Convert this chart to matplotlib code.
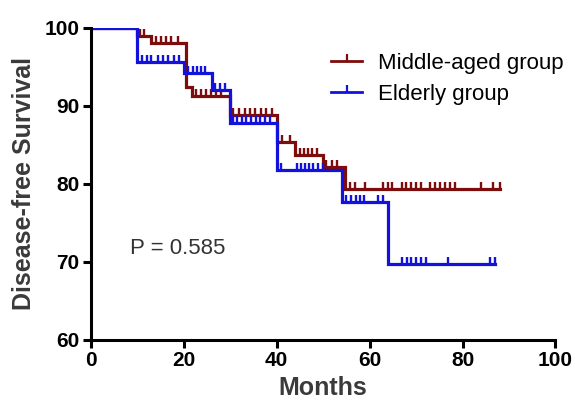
import numpy as np
import matplotlib
matplotlib.use("Agg")
import matplotlib.pyplot as plt
from matplotlib.path import Path

# ---- data ----
red_times = [0, 10, 13, 20.5, 21.7, 30, 40, 44, 50, 54.7, 88]
red_surv = [100, 99.0, 98.0, 92.4, 91.2, 88.8, 85.4, 83.7, 82.2, 79.3, 79.3]
blue_times = [0, 10, 20, 26, 30, 40, 54, 64, 87]
blue_surv = [100, 95.65, 94.2, 92.0, 87.75, 81.75, 77.7, 69.7, 69.7]

red_censor = [8.5, 9.3, 10.6, 11.5, 14.1, 15.1, 16.1, 17.2, 18.7, 22.6, 23.7, 24.8,
              25.9, 27, 28, 30.6, 31.9, 33.2, 34.3, 35.3, 36.6, 37.8, 38.9, 41.1,
              42.9, 45, 45.9, 46.8, 47.7, 48.6, 50.7, 51.8, 52.9, 55.8, 56.8, 59.0,
              62.9, 64.0, 64.9, 66.9, 67.8, 68.9, 70.0, 71.0, 73.0, 74.0, 75.1,
              76.2, 77.3, 78.3, 84, 86.5, 88]
blue_censor = [7, 8, 11, 12, 13, 14.5, 15.5, 16.5, 18, 19, 21, 21.9, 22.8, 23.7,
               24.6, 26.7, 27.8, 28.9, 30.5, 31.5, 32.5, 33.5, 34.5, 35.5, 36.5,
               37.5, 38.5, 41, 44.3, 45.2, 46.1, 47.0, 47.9, 48.8, 50, 55, 56.1,
               57.1, 57.9, 58.8, 61.9, 62.8, 66.9, 68.0, 69.0, 69.9, 71.0, 72.1,
               76.9, 85.9, 87]

labels = ["Middle-aged group", "Elderly group"]
xticks = [0, 20, 40, 60, 80, 100]
yticks = [60, 70, 80, 90, 100]
p_text = "P = 0.585"

RED = "#7d0c0c"
BLUE = "#1212dc"


def step_value(times, surv, t):
    idx = np.searchsorted(times, t, side="right") - 1
    return np.asarray(surv)[idx]


tick_marker = Path([(0, 0), (0, 1)], [Path.MOVETO, Path.LINETO])

fig = plt.figure(figsize=(5.75, 4.09), dpi=100)
ax = fig.add_axes([0.158, 0.169, 0.808, 0.763])

for times, surv, cens, col, lab in [
    (red_times, red_surv, red_censor, RED, labels[0]),
    (blue_times, blue_surv, blue_censor, BLUE, labels[1]),
]:
    ax.step(times, surv, where="post", color=col, lw=2.3, solid_joinstyle="miter")
    cy = step_value(times, surv, cens)
    ax.plot(cens, cy, linestyle="none", marker=tick_marker, markersize=10,
            markeredgewidth=1.7, color=col)
    ax.plot([], [], color=col, lw=2.0, marker=tick_marker, markersize=10,
            markeredgewidth=1.6, label=lab)

ax.set_xlim(0, 100)
ax.set_ylim(60, 100)
ax.set_xticks(xticks)
ax.set_yticks(yticks)
ax.set_xticklabels([str(v) for v in xticks], fontsize=15, fontweight="bold",
                   family="Liberation Sans")
ax.set_yticklabels([str(v) for v in yticks], fontsize=15, fontweight="bold",
                   family="Liberation Sans")
for s in ["top", "right"]:
    ax.spines[s].set_visible(False)
for s in ["left", "bottom"]:
    ax.spines[s].set_linewidth(2.2)
ax.tick_params(width=2.2, length=6, pad=2, colors="black")
ax.spines["left"].set_bounds(60, 100)

ax.set_xlabel("Months", fontsize=18, fontweight="bold", color="#3a3a3a",
              family="Liberation Sans", labelpad=4)
ax.set_ylabel("Disease-free Survival", fontsize=18, fontweight="bold",
              color="#3a3a3a", family="Liberation Sans", labelpad=6)

leg = ax.legend(loc="upper left", bbox_to_anchor=(331 / 575, 1 - 53 / 409),
                bbox_transform=fig.transFigure, frameon=False,
                prop={"family": "Liberation Sans", "size": 16},
                handlelength=1.4, handletextpad=0.7, labelspacing=0.45,
                borderpad=0, borderaxespad=0)

fig.text(130 / 575, 1 - 248 / 409, p_text, fontsize=16, color="#333333",
         family="Liberation Sans", va="center", ha="left")

fig.savefig("out.png", dpi=100)
